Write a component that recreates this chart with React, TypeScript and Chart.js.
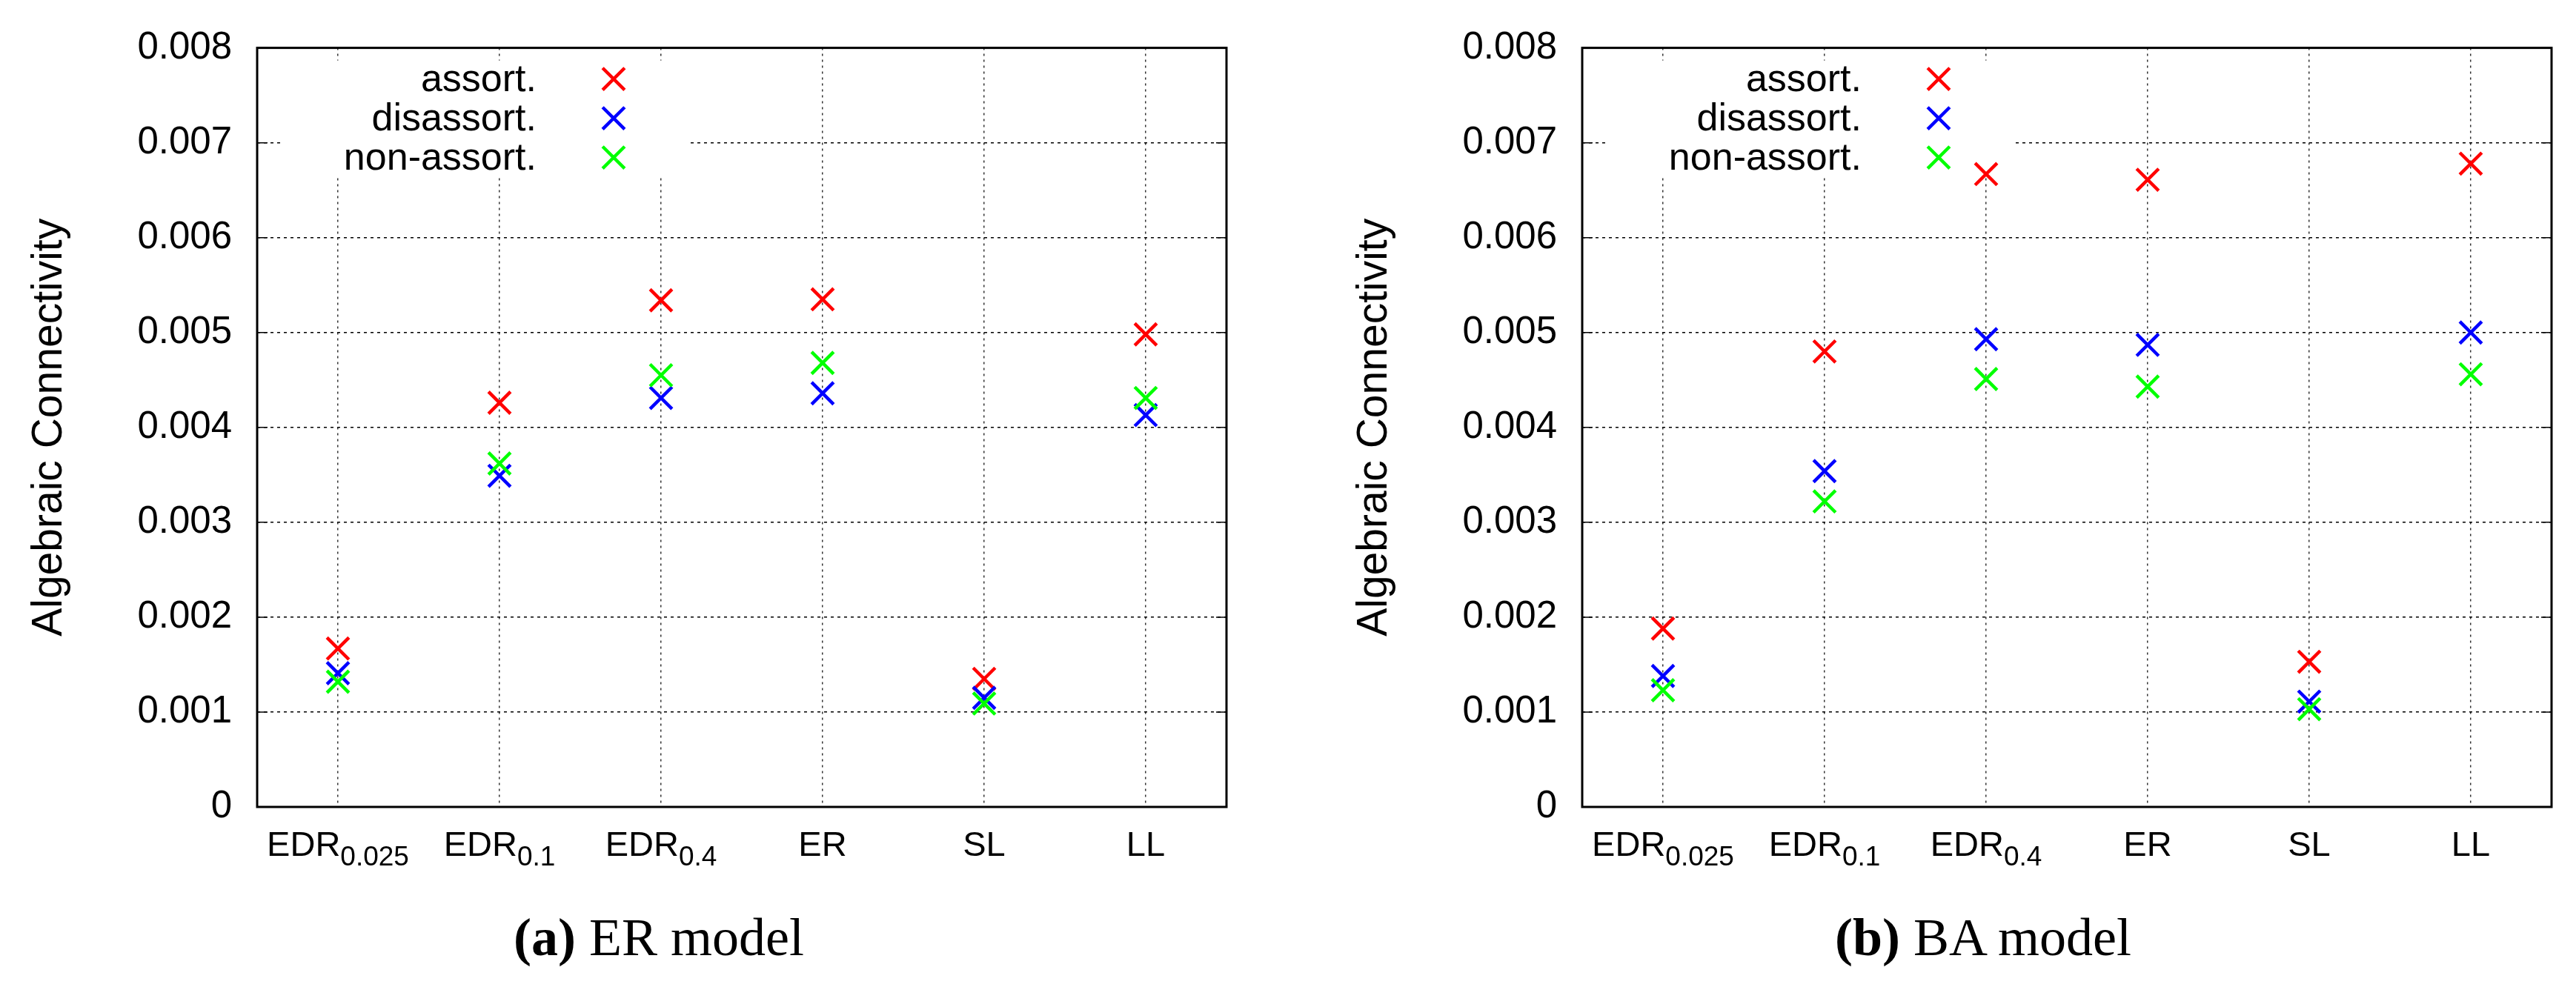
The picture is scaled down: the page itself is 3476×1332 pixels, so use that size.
import React, { useEffect, useRef } from 'react';
import { Chart, registerables } from 'chart.js';

Chart.register(...registerables);

const FONT = "'Liberation Sans', Arial, Helvetica, sans-serif";

// ---- data ----
const categories = ['EDR0.025', 'EDR0.1', 'EDR0.4', 'ER', 'SL', 'LL'];
const categoryBase = ['EDR', 'EDR', 'EDR', 'ER', 'SL', 'LL'];
const categorySub = ['0.025', '0.1', '0.4', '', '', ''];

const seriesLabels = ['assort.', 'disassort.', 'non-assort.'];
const seriesColors = ['#ff0000', '#0000ff', '#00ff00'];

const erAssort = [0.00167, 0.00426, 0.00534, 0.00535, 0.00135, 0.00498];
const erDisassort = [0.00141, 0.00349, 0.00431, 0.00436, 0.00115, 0.00413];
const erNonAssort = [0.00132, 0.00362, 0.00455, 0.00468, 0.00109, 0.00431];

const baAssort = [0.00188, 0.0048, 0.00667, 0.00661, 0.00153, 0.00678];
const baDisassort = [0.00138, 0.00354, 0.00493, 0.00487, 0.00111, 0.005];
const baNonAssort = [0.00123, 0.00322, 0.00451, 0.00443, 0.00103, 0.00456];

const yTickLabels = ['0', '0.001', '0.002', '0.003', '0.004', '0.005', '0.006', '0.007', '0.008'];
const yAxisTitle = 'Algebraic Connectivity';
const captionTags = ['(a)', '(b)'];
const captionTexts = ['ER model', 'BA model'];

const CANVAS_W = 1738;
const CANVAS_H = 1332;
const MARK_R = 21;
const MARK_W = 4.5;

function drawCross(ctx: CanvasRenderingContext2D, x: number, y: number, r: number, color: string, lw: number) {
  const d = r * Math.SQRT1_2;
  ctx.save();
  ctx.strokeStyle = color;
  ctx.lineWidth = lw;
  ctx.beginPath();
  ctx.moveTo(x - d, y - d);
  ctx.lineTo(x + d, y + d);
  ctx.moveTo(x + d, y - d);
  ctx.lineTo(x - d, y + d);
  ctx.stroke();
  ctx.restore();
}

const decorPlugin = {
  id: 'gnuplotDecor',
  beforeDatasetsDraw(chart: any) {
    const { ctx, chartArea: a } = chart;
    ctx.save();
    // legend box (white, covers grid)
    ctx.fillStyle = '#ffffff';
    ctx.fillRect(a.left + 32, a.top + 17, 551, 158);
    ctx.font = `52px ${FONT}`;
    ctx.textAlign = 'right';
    ctx.textBaseline = 'middle';
    ctx.fillStyle = '#000';
    chart.data.datasets.forEach((ds: any, i: number) => {
      const y = a.top + 42 + i * 53;
      ctx.fillText(ds.label, a.left + 377, y + 2);
      drawCross(ctx, a.left + 481, y, MARK_R, ds.borderColor, MARK_W);
    });
    ctx.restore();
  },
  afterDraw(chart: any) {
    const { ctx, chartArea: a } = chart;
    const ys = chart.scales.y;
    const xs = chart.scales.x;
    ctx.save();
    // inward y tick marks on both sides
    ctx.strokeStyle = '#000';
    ctx.lineWidth = 1.5;
    ys.ticks.forEach((t: any) => {
      const py = ys.getPixelForValue(t.value);
      ctx.beginPath();
      ctx.moveTo(a.left, py);
      ctx.lineTo(a.left + 14, py);
      ctx.moveTo(a.right, py);
      ctx.lineTo(a.right - 14, py);
      ctx.stroke();
    });
    // frame
    ctx.lineWidth = 3;
    ctx.strokeStyle = '#000';
    ctx.strokeRect(a.left, a.top, a.right - a.left, a.bottom - a.top);
    // x labels with subscripts
    ctx.fillStyle = '#000';
    ctx.textAlign = 'left';
    ctx.textBaseline = 'alphabetic';
    const baseY = a.bottom + 66;
    categoryBase.forEach((b, i) => {
      const cx = xs.getPixelForValue(i);
      ctx.font = `47px ${FONT}`;
      const wb = ctx.measureText(b).width;
      const sub = categorySub[i];
      ctx.font = `37px ${FONT}`;
      const wsub = sub ? ctx.measureText(sub).width : 0;
      const x0 = cx - (wb + wsub) / 2;
      ctx.font = `47px ${FONT}`;
      ctx.fillText(b, x0, baseY);
      if (sub) {
        ctx.font = `37px ${FONT}`;
        ctx.fillText(sub, x0 + wb, baseY + 13);
      }
    });
    ctx.restore();
  },
};

function makeConfig(series: number[][], padLeft: number, padRight: number): any {
  const orders = [3, 2, 1];
  return {
    type: 'line',
    data: {
      labels: categories,
      datasets: series.map((vals, i) => ({
        label: seriesLabels[i],
        data: vals,
        showLine: false,
        borderColor: seriesColors[i],
        backgroundColor: seriesColors[i],
        pointStyle: 'crossRot',
        pointRadius: MARK_R,
        pointHoverRadius: MARK_R,
        pointBorderWidth: MARK_W,
        pointBorderColor: seriesColors[i],
        order: orders[i],
      })),
    },
    options: {
      responsive: false,
      animation: false,
      devicePixelRatio: 1,
      events: [],
      layout: { padding: { left: padLeft, right: padRight, top: 51, bottom: 143 } },
      plugins: {
        legend: { display: false },
        tooltip: { enabled: false },
        title: { display: false },
      },
      scales: {
        x: {
          type: 'category',
          offset: true,
          grid: { offset: false, color: '#333', lineWidth: 1.5, drawTicks: false },
          border: { display: false, dash: [3, 5] },
          ticks: { display: false },
          afterFit: (s: any) => {
            s.height = 100;
          },
        },
        y: {
          type: 'linear',
          min: 0,
          max: 0.008,
          grid: { color: '#000', lineWidth: 1.5, drawTicks: false },
          border: { display: false, dash: [4, 5] },
          ticks: {
            stepSize: 0.001,
            padding: 34,
            color: '#000',
            font: { family: FONT, size: 51 },
            callback: (_v: any, i: number) => yTickLabels[i] ?? '',
          },
          title: {
            display: true,
            text: yAxisTitle,
            color: '#000',
            font: { family: FONT, size: 57 },
            padding: { top: 33, bottom: 0 },
          },
          afterFit: (s: any) => {
            s.width = 347;
          },
        },
      },
    },
    plugins: [decorPlugin],
  };
}

function Panel({ series, padLeft, padRight, left }: { series: number[][]; padLeft: number; padRight: number; left: number }) {
  const ref = useRef<HTMLCanvasElement | null>(null);
  useEffect(() => {
    if (!ref.current) return;
    const chart = new Chart(ref.current, makeConfig(series, padLeft, padRight));
    return () => chart.destroy();
  }, []);
  return (
    <canvas
      ref={ref}
      width={CANVAS_W}
      height={CANVAS_H}
      style={{ position: 'absolute', left, top: 0, width: CANVAS_W, height: CANVAS_H, display: 'block' }}
    />
  );
}

const captionStyle: React.CSSProperties = {
  position: 'absolute',
  top: 1229,
  width: 800,
  textAlign: 'center',
  fontFamily: "'Liberation Serif', 'DejaVu Serif', serif",
  fontSize: 72,
  lineHeight: '72px',
  color: '#000',
  whiteSpace: 'nowrap',
};

export default function App() {
  return (
    <div
      style={{
        position: 'absolute',
        left: 0,
        top: 0,
        width: 3476,
        height: 1332,
        overflow: 'hidden',
        background: '#fff',
      }}
    >
      <Panel series={[erAssort, erDisassort, erNonAssort]} padLeft={0} padRight={83} left={0} />
      <Panel series={[baAssort, baDisassort, baNonAssort]} padLeft={50} padRight={33} left={CANVAS_W} />
      <div style={{ ...captionStyle, left: 889 - 400 }}>
        <b>{captionTags[0]}</b> {captionTexts[0]}
      </div>
      <div style={{ ...captionStyle, left: 2676 - 400 }}>
        <b>{captionTags[1]}</b> {captionTexts[1]}
      </div>
    </div>
  );
}
